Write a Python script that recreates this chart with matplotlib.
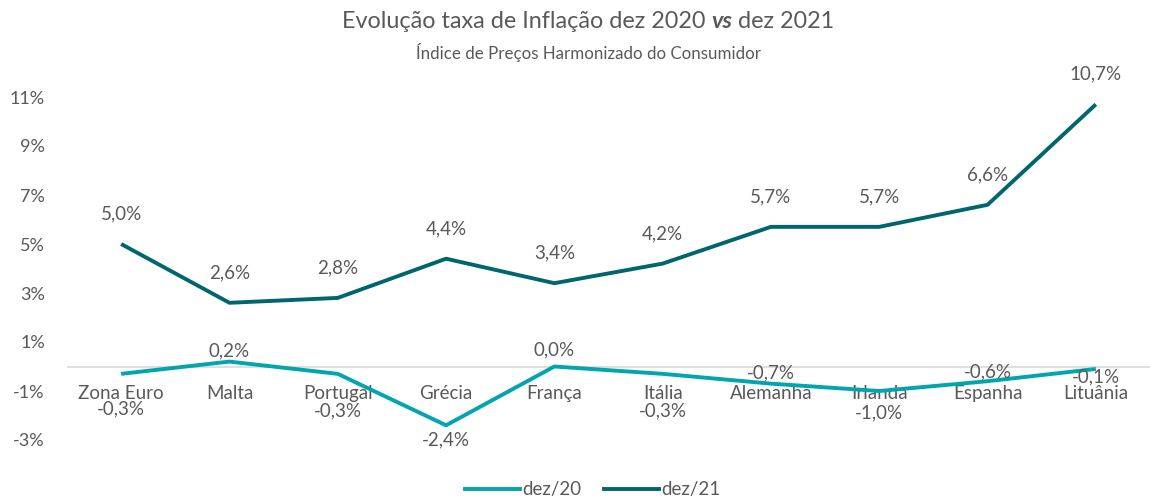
import matplotlib
matplotlib.use("Agg")
import matplotlib.pyplot as plt
from matplotlib.lines import Line2D

plt.rcParams['font.family'] = ['Lato', 'DejaVu Sans']

categories = ["Zona Euro", "Malta", "Portugal", "Grécia", "França", "Itália",
              "Alemanha", "Irlanda", "Espanha", "Lituânia"]
dez20 = [-0.3, 0.2, -0.3, -2.4, 0.0, -0.3, -0.7, -1.0, -0.6, -0.1]
dez21 = [5.0, 2.6, 2.8, 4.4, 3.4, 4.2, 5.7, 5.7, 6.6, 10.7]
yticks = [-3, -1, 1, 3, 5, 7, 9, 11]

# label offsets in pixels (positive = up)
off20 = [-35, 11, -37, -15, 17, -37, 11, -22, 9, -8]
off21 = [30] * len(dez21)

TXT = '#595959'
C20 = '#00A5AE'
C21 = '#00666E'
FS = 13.5
LW = 2.8

W, H = 1150, 499
fig = plt.figure(figsize=(W / 100, H / 100), dpi=100)
ax = fig.add_axes([67 / W, 1 - 455 / H, (W - 67) / W, 395 / H])

x = list(range(len(categories)))
ax.plot(x, dez20, color=C20, lw=LW, solid_capstyle='butt', zorder=3)
ax.plot(x, dez21, color=C21, lw=LW, solid_capstyle='butt', zorder=3)
ax.axhline(0, color='#d9d9d9', lw=1.2, zorder=1)

ax.set_xlim(-0.5, len(categories) - 0.5)
ax.set_ylim((366.5 - 455) / 24.5, (366.5 - 60) / 24.5)
ax.set_yticks(yticks)
ax.set_yticklabels([f"{t}%" for t in yticks])
ax.set_xticks([])
ax.tick_params(axis='y', length=0, pad=16, labelsize=13, labelcolor=TXT)
for s in ax.spines.values():
    s.set_visible(False)

def fmt(v):
    return f"{v:.1f}%".replace('.', ',')

for i, c in enumerate(categories):
    ax.annotate(c, (i, 0), xytext=(0, -27), textcoords='offset pixels',
                ha='center', va='center', fontsize=FS, color=TXT, zorder=2)
for i, v in enumerate(dez20):
    ax.annotate(fmt(v), (i, v), xytext=(0, off20[i]), textcoords='offset pixels',
                ha='center', va='center', fontsize=FS, color=TXT, zorder=4)
for i, v in enumerate(dez21):
    ax.annotate(fmt(v), (i, v), xytext=(0, off21[i]), textcoords='offset pixels',
                ha='center', va='center', fontsize=FS, color=TXT, zorder=4)

# Title with bold-italic "vs"
parts = [("Evolução taxa de Inflação dez 2020 ", 'normal', 'normal'),
         ("vs", 'bold', 'italic'),
         (" dez 2021", 'normal', 'normal')]
renderer = fig.canvas.get_renderer()
texts = []
total = 0
for s, w, st in parts:
    t = fig.text(0, 1 - 22 / H, s, fontsize=16.8, color=TXT, fontweight=w,
                 fontstyle=st, va='center', ha='left')
    bb = t.get_window_extent(renderer)
    texts.append((t, bb.width))
    total += bb.width
xpos = 588 - total / 2
for t, w in texts:
    t.set_x(xpos / W)
    xpos += w

fig.text(589 / W, 1 - 52 / H, "Índice de Preços Harmonizado do Consumidor",
         fontsize=12.2, color=TXT, ha='center', va='center')

handles = [Line2D([], [], color=C20, lw=LW), Line2D([], [], color=C21, lw=LW)]
fig.legend(handles, ["dez/20", "dez/21"], loc='center',
           bbox_to_anchor=(593 / W, 1 - 490 / H), ncol=2, frameon=False,
           fontsize=FS, labelcolor=TXT, handlelength=2.9, handletextpad=0.15,
           columnspacing=1.2)

fig.savefig("out.png", dpi=100)
